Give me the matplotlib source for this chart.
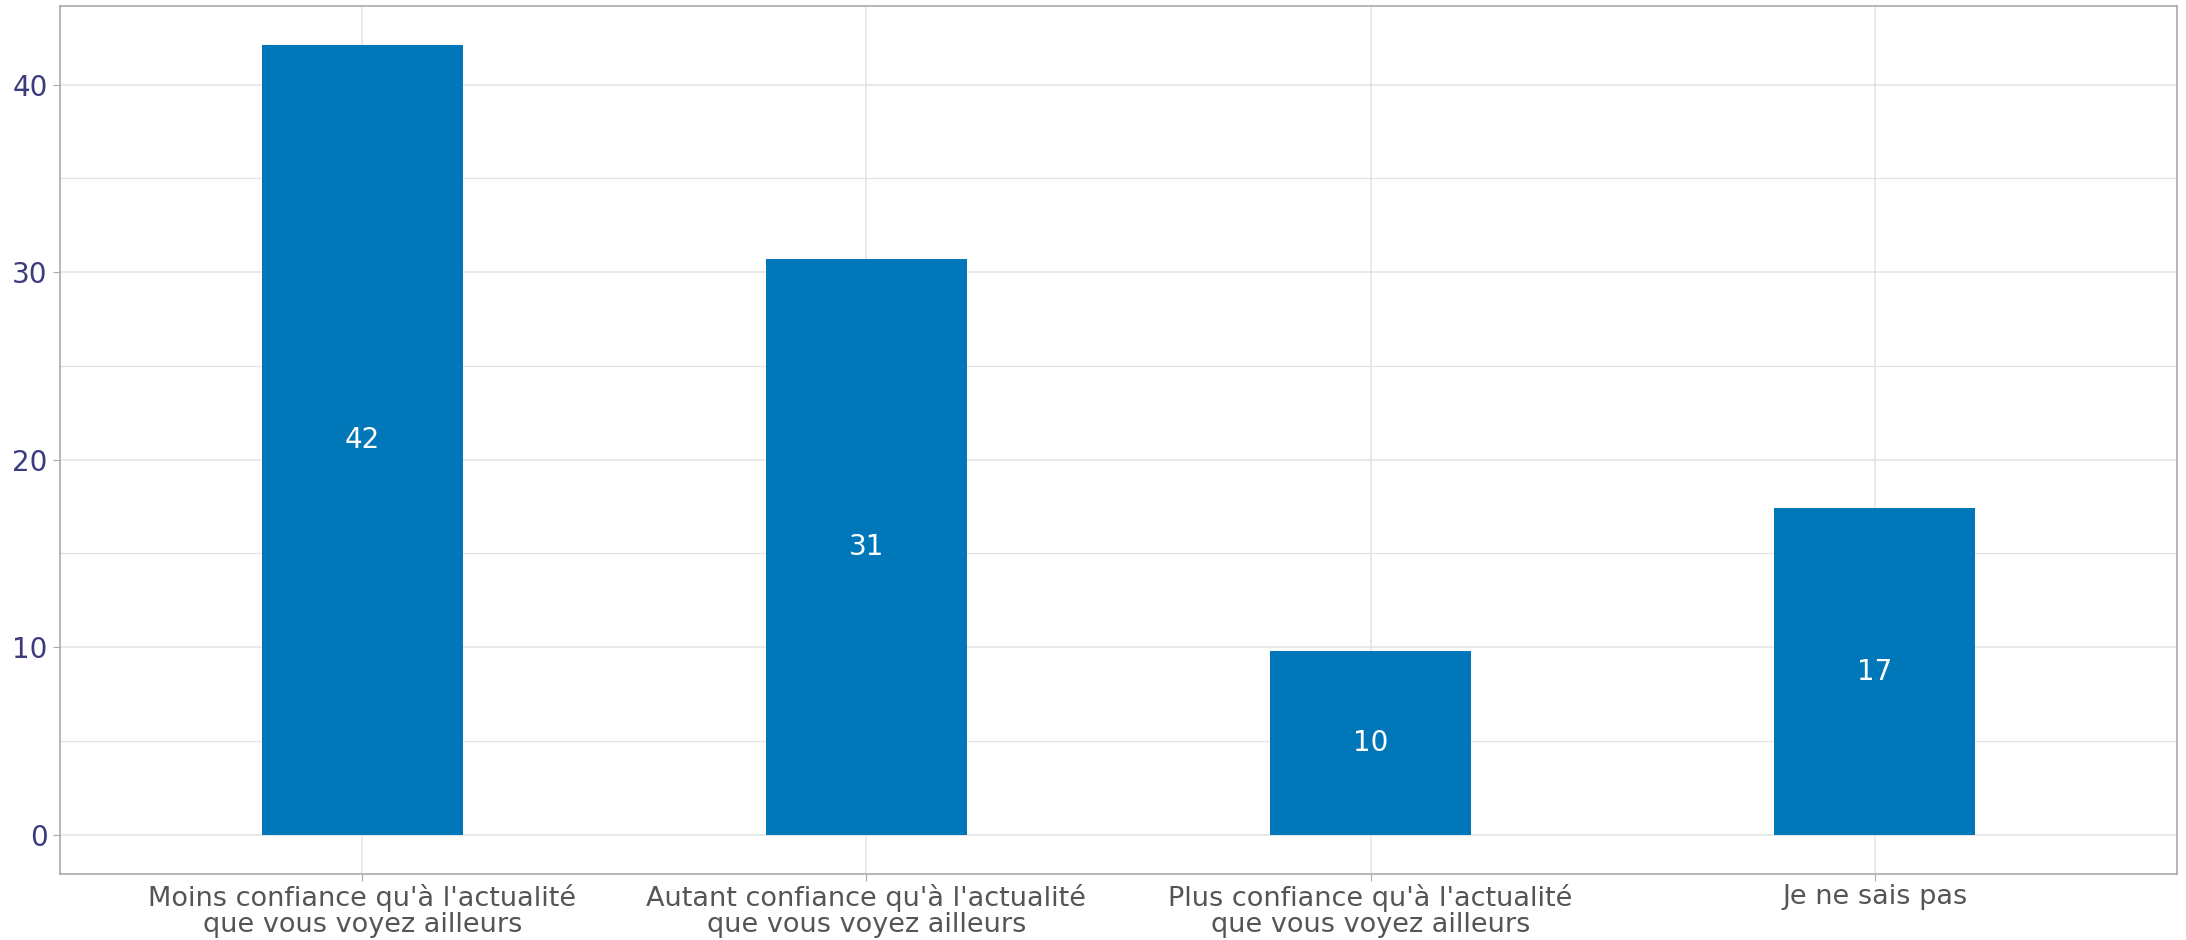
import numpy as np
import matplotlib
matplotlib.use("Agg")
import matplotlib.pyplot as plt
from matplotlib.ticker import MultipleLocator

categories = [
    "Moins confiance qu'à l'actualité\nque vous voyez ailleurs",
    "Autant confiance qu'à l'actualité\nque vous voyez ailleurs",
    "Plus confiance qu'à l'actualité\nque vous voyez ailleurs",
    "Je ne sais pas",
]
values = [42.1, 30.7, 9.8, 17.4]
bar_labels = ["42", "31", "10", "17"]

BAR = "#0077b8"
GRID = "#e3e3e3"
SPINE = "#aaaaaa"

plt.rcParams["font.family"] = ["DejaVu Sans"]

fig = plt.figure(figsize=(21.86, 9.40), dpi=100)
ax = fig.add_axes([60 / 2186, 1 - 874 / 940, (2177 - 60) / 2186, (874 - 6) / 940])

x = np.arange(len(categories))
ax.bar(x, values, width=0.4, color=BAR, zorder=2)
for xi, v, lab in zip(x, values, bar_labels):
    ax.text(xi, v / 2, lab, ha="center", va="center", color="white", fontsize=20, zorder=3)

ax.set_xlim(-0.6, 3.6)
ax.set_ylim(-2.1, 44.2)
ax.yaxis.set_major_locator(MultipleLocator(10))
ax.yaxis.set_minor_locator(MultipleLocator(5))
ax.set_xticks(x)
ax.set_xticklabels(categories, fontsize=19.5, color="#555555", linespacing=1.0)

ax.grid(which="major", color=GRID, linewidth=1.1, zorder=0)
ax.grid(which="minor", axis="y", color=GRID, linewidth=0.9, zorder=0)
ax.set_axisbelow(True)

ax.tick_params(axis="y", which="major", labelsize=20, labelcolor="#3b3b7e", color=SPINE, length=5, pad=4)
ax.tick_params(axis="y", which="minor", length=0)
ax.tick_params(axis="x", color=SPINE, length=5, pad=2)
for s in ax.spines.values():
    s.set_color(SPINE)
    s.set_linewidth(1.2)

fig.savefig("out.png", dpi=100, facecolor="white")
